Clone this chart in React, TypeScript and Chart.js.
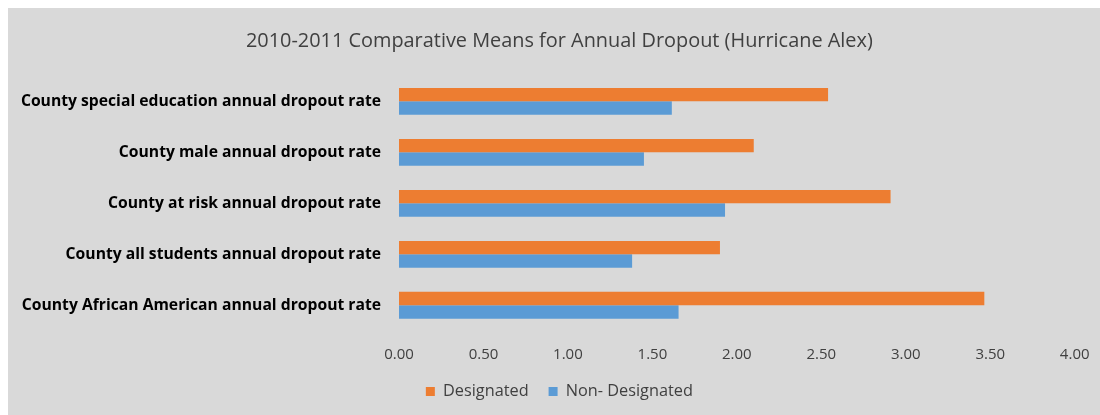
import React, { useEffect, useRef } from "react";
import { Chart, registerables } from "chart.js";

Chart.register(...registerables);

const categories = [
  "County special education annual dropout rate",
  "County male annual dropout rate",
  "County at risk annual dropout rate",
  "County all students annual dropout rate",
  "County African American annual dropout rate",
];
const designated = [2.54, 2.1, 2.91, 1.9, 3.465];
const nonDesignated = [1.615, 1.45, 1.93, 1.38, 1.655];
const xTicks = [0, 0.5, 1, 1.5, 2, 2.5, 3, 3.5, 4];

const FONT = "'Open Sans', sans-serif";

// lets the long category labels extend into the left padding without clipping
const unclipYLabels = {
  id: "unclipYLabels",
  afterLayout(chart: any) {
    if (chart.scales.y) chart.scales.y.left = 0;
  },
};

export default function App() {
  const ref = useRef<HTMLCanvasElement | null>(null);
  useEffect(() => {
    if (!ref.current) return;
    const chart = new Chart(ref.current, {
      type: "bar",
      data: {
        labels: categories,
        datasets: [
          {
            label: "Designated",
            data: designated,
            backgroundColor: "#ED7D31",
            categoryPercentage: 0.527,
            barPercentage: 1,
          },
          {
            label: "Non- Designated",
            data: nonDesignated,
            backgroundColor: "#5B9BD5",
            categoryPercentage: 0.527,
            barPercentage: 1,
          },
        ],
      },
      plugins: [unclipYLabels],
      options: {
        indexAxis: "y",
        animation: false,
        responsive: true,
        maintainAspectRatio: false,
        layout: { padding: { top: 0, right: 25.3, bottom: 5.4, left: 36 } },
        plugins: {
          title: {
            display: true,
            text: "2010-2011 Comparative Means for Annual Dropout (Hurricane Alex)",
            color: "#404040",
            font: { family: FONT, size: 19.9, weight: "normal", lineHeight: 1.2 },
            padding: { top: 21, bottom: 23 },
          },
          legend: {
            display: true,
            position: "bottom",
            labels: {
              color: "#404040",
              font: { family: FONT, size: 16.3 },
              boxWidth: 9,
              boxHeight: 9,
              padding: 20,
            },
          },
          tooltip: { enabled: false },
        },
        scales: {
          x: {
            min: 0,
            max: 4,
            grid: { display: false, drawTicks: false },
            border: { display: false },
            afterBuildTicks: (axis: any) => {
              axis.ticks = xTicks.map((v) => ({ value: v }));
            },
            afterFit: (axis: any) => {
              axis.height = 32.5;
              axis.paddingLeft = 0;
              axis.paddingRight = 0;
            },
            ticks: {
              color: "#404040",
              font: { family: FONT, size: 15, lineHeight: 1.2 },
              padding: 14.5,
              maxRotation: 0,
              callback: (v: any) => Number(v).toFixed(2),
            },
          },
          y: {
            grid: { display: false, drawTicks: false },
            border: { display: false },
            afterFit: (axis: any) => {
              axis.width = 355;
            },
            ticks: {
              color: "#000000",
              font: { family: FONT, size: 15.7, weight: "bold" },
              padding: 18,
            },
          },
        },
      },
    });
    return () => chart.destroy();
  }, []);
  return (
    <div
      style={{
        position: "fixed",
        left: 8,
        top: 8,
        right: 0,
        bottom: 0,
        background: "#D9D9D9",
      }}
    >
      <canvas ref={ref} />
    </div>
  );
}
